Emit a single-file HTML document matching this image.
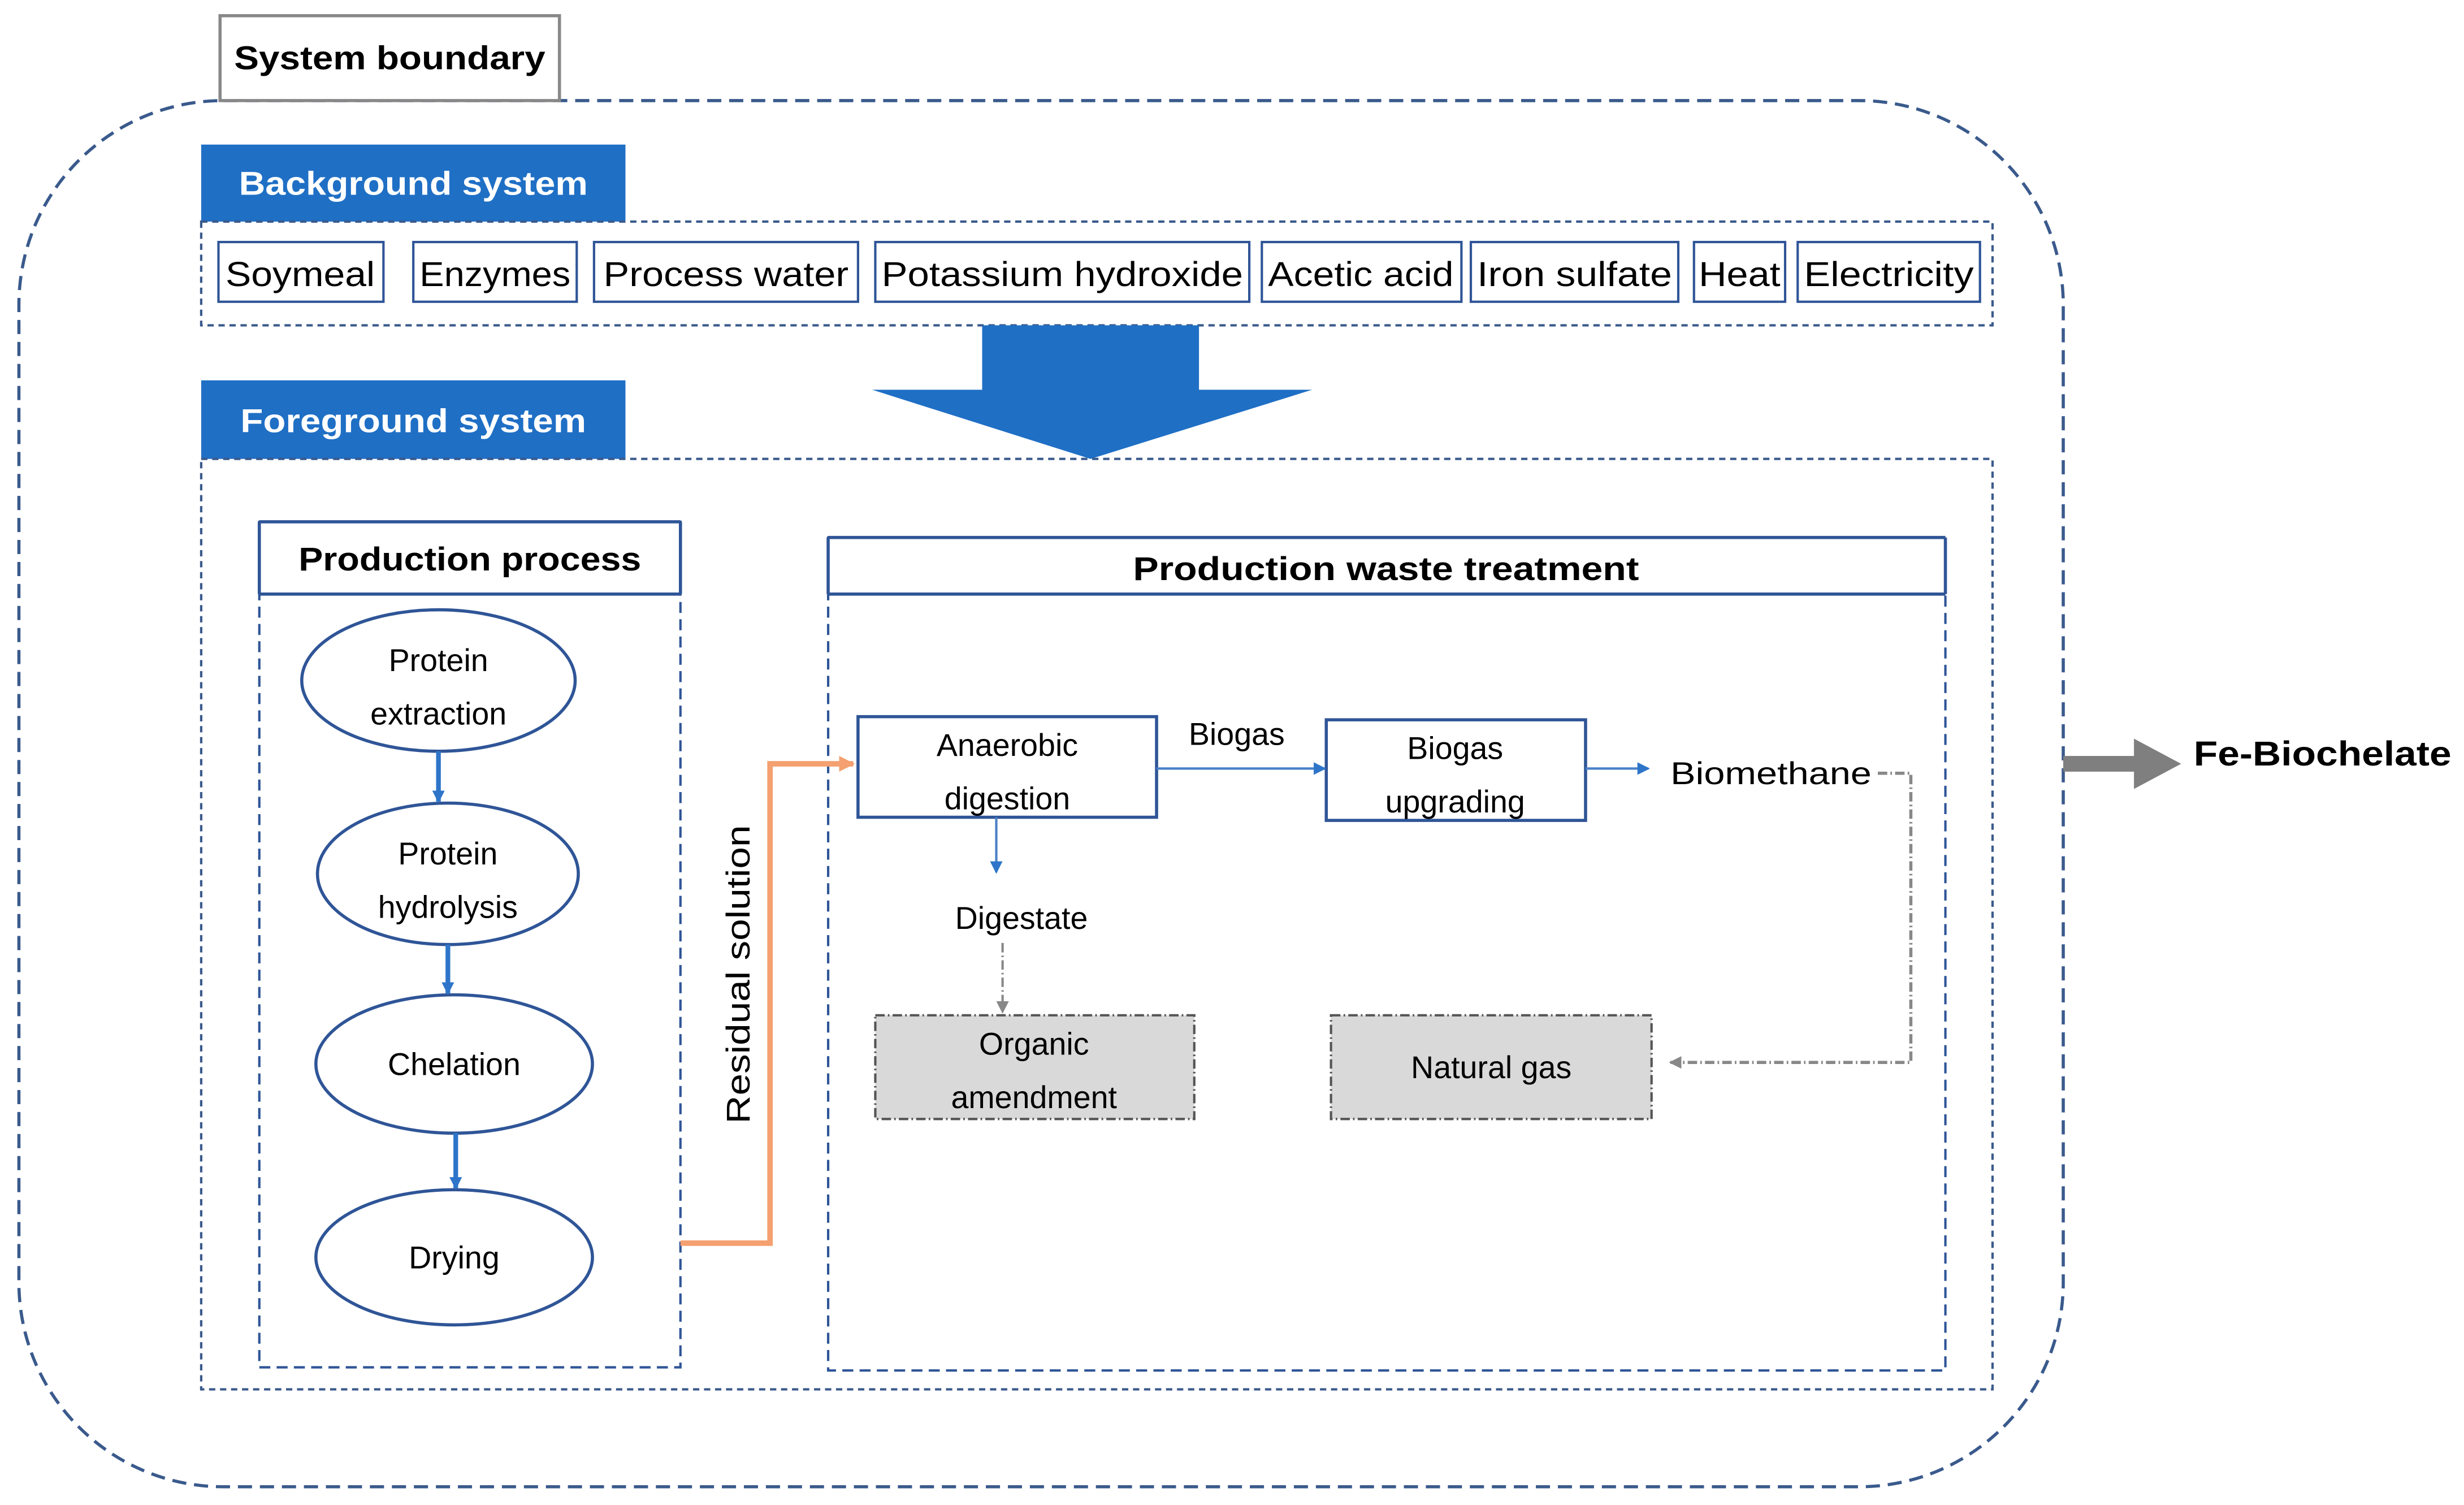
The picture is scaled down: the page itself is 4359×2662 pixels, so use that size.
<!DOCTYPE html>
<html><head><meta charset="utf-8"><style>html,body{margin:0;padding:0;background:#fff}svg{display:block}text{font-family:"Liberation Sans",sans-serif}</style></head><body>
<svg width="4359" height="2662" viewBox="0 0 1568 957.6" xmlns="http://www.w3.org/2000/svg">
<defs>
<marker id="ab" markerWidth="8" markerHeight="8" refX="7" refY="4" orient="auto" markerUnits="userSpaceOnUse"><path d="M0,0 L8,4 L0,8 z" fill="#2e75c9"/></marker>
<marker id="ao" markerWidth="10" markerHeight="10" refX="9" refY="5" orient="auto" markerUnits="userSpaceOnUse"><path d="M0,0 L10,5 L0,10 z" fill="#f4a070"/></marker>
<marker id="ag" markerWidth="8" markerHeight="8" refX="7" refY="4" orient="auto" markerUnits="userSpaceOnUse"><path d="M0,0 L8,4 L0,8 z" fill="#888"/></marker>
</defs>
<rect x="12" y="64" width="1301" height="882" rx="130" fill="none" stroke="#3a5a8c" stroke-width="2" stroke-dasharray="9,5"/>
<rect x="140" y="10" width="216" height="54" fill="#fff" stroke="#888" stroke-width="2"/>
<text x="248" y="44" font-size="21" font-weight="bold" text-anchor="middle" textLength="198" lengthAdjust="spacingAndGlyphs">System boundary</text>
<rect x="128" y="92" width="270" height="49" fill="#1f6fc5"/>
<text x="263" y="124" font-size="21" font-weight="bold" fill="#fff" text-anchor="middle" textLength="222" lengthAdjust="spacingAndGlyphs">Background system</text>
<rect x="128" y="141" width="1140" height="66" fill="none" stroke="#3a5a8c" stroke-width="1.5" stroke-dasharray="4,3"/>
<g fill="none" stroke="#2f5597" stroke-width="1.5">
<rect x="139" y="154" width="105" height="38"/><rect x="263" y="154" width="104" height="38"/><rect x="378" y="154" width="168" height="38"/><rect x="557" y="154" width="238" height="38"/><rect x="803" y="154" width="127" height="38"/><rect x="936" y="154" width="132" height="38"/><rect x="1078" y="154" width="58" height="38"/><rect x="1144" y="154" width="116" height="38"/>
</g>
<g font-size="22" text-anchor="middle">
<text x="191" y="182" textLength="95" lengthAdjust="spacingAndGlyphs">Soymeal</text>
<text x="315" y="182" textLength="96" lengthAdjust="spacingAndGlyphs">Enzymes</text>
<text x="462" y="182" textLength="156" lengthAdjust="spacingAndGlyphs">Process water</text>
<text x="676" y="182" textLength="230" lengthAdjust="spacingAndGlyphs">Potassium hydroxide</text>
<text x="866" y="182" textLength="118" lengthAdjust="spacingAndGlyphs">Acetic acid</text>
<text x="1002" y="182" textLength="124" lengthAdjust="spacingAndGlyphs">Iron sulfate</text>
<text x="1107" y="182" textLength="52" lengthAdjust="spacingAndGlyphs">Heat</text>
<text x="1202" y="182" textLength="108" lengthAdjust="spacingAndGlyphs">Electricity</text>
</g>
<path d="M625,207 H763 V248 H835 L694,292 L555,248 H625 Z" fill="#1f6fc5"/>
<rect x="128" y="242" width="270" height="50" fill="#1f6fc5"/>
<text x="263" y="275" font-size="21" font-weight="bold" fill="#fff" text-anchor="middle" textLength="220" lengthAdjust="spacingAndGlyphs">Foreground system</text>
<rect x="128" y="292" width="1140" height="592" fill="none" stroke="#3a5a8c" stroke-width="1.5" stroke-dasharray="4,3"/>
<rect x="165" y="332" width="268" height="538" fill="#fff" stroke="#2f5597" stroke-width="1.5" stroke-dasharray="7,4"/>
<path d="M165,332 H433 M165,332 V378 M433,332 V378 M165,378 H433" stroke="#2f5597" stroke-width="2"/>
<text x="299" y="363" font-size="21" font-weight="bold" text-anchor="middle" textLength="218" lengthAdjust="spacingAndGlyphs">Production process</text>
<g fill="#fff" stroke="#2f5597" stroke-width="2">
<ellipse cx="279" cy="433" rx="87" ry="45"/><ellipse cx="285" cy="556" rx="83" ry="45"/><ellipse cx="289" cy="677" rx="88" ry="44"/><ellipse cx="289" cy="800" rx="88" ry="43"/>
</g>
<g font-size="20" text-anchor="middle">
<text x="279" y="427">Protein</text><text x="279" y="461">extraction</text>
<text x="285" y="550">Protein</text><text x="285" y="584">hydrolysis</text>
<text x="289" y="684">Chelation</text><text x="289" y="807">Drying</text>
</g>
<g stroke="#2e75c9" stroke-width="3" marker-end="url(#ab)">
<line x1="279" y1="478" x2="279" y2="510"/><line x1="285" y1="601" x2="285" y2="632"/><line x1="290" y1="721" x2="290" y2="756"/>
</g>
<text transform="translate(477,620) rotate(-90)" font-size="21" text-anchor="middle" textLength="190" lengthAdjust="spacingAndGlyphs">Residual solution</text>
<rect x="527" y="342" width="711" height="530" fill="#fff" stroke="#2f5597" stroke-width="1.5" stroke-dasharray="7,4"/>
<path d="M527,342 H1238 M527,342 V378 M1238,342 V378 M527,378 H1238" stroke="#2f5597" stroke-width="2"/>
<text x="882" y="369" font-size="21" font-weight="bold" text-anchor="middle" textLength="322" lengthAdjust="spacingAndGlyphs">Production waste treatment</text>
<path d="M433,791 H490 V486 H543" fill="none" stroke="#f4a070" stroke-width="3.5" marker-end="url(#ao)"/>
<rect x="546" y="456" width="190" height="64" fill="#fff" stroke="#2f5597" stroke-width="2"/>
<rect x="844" y="458" width="165" height="64" fill="#fff" stroke="#2f5597" stroke-width="2"/>
<g font-size="20" text-anchor="middle">
<text x="641" y="481">Anaerobic</text><text x="641" y="515">digestion</text>
<text x="926" y="483">Biogas</text><text x="926" y="517">upgrading</text>
<text x="787" y="474">Biogas</text>
<text x="650" y="591">Digestate</text>
</g>
<text x="1063" y="499" font-size="20" textLength="128" lengthAdjust="spacingAndGlyphs">Biomethane</text>
<g stroke="#4a80c8" stroke-width="1.5" marker-end="url(#ab)">
<line x1="736" y1="489" x2="843" y2="489"/><line x1="1009" y1="489" x2="1049" y2="489"/><line x1="634" y1="520" x2="634" y2="555"/>
</g>
<g fill="none" stroke="#888" stroke-width="1.5" stroke-dasharray="6,2,1,2">
<line x1="638" y1="600" x2="638" y2="644" marker-end="url(#ag)"/>
<path d="M1195,492 H1216 V676 H1063" marker-end="url(#ag)" stroke-width="2"/>
</g>
<g fill="#d9d9d9" stroke="#555" stroke-width="1.5" stroke-dasharray="6,2,1,2">
<rect x="557" y="646" width="203" height="66"/><rect x="847" y="646" width="204" height="66"/>
</g>
<g font-size="20" text-anchor="middle">
<text x="658" y="671">Organic</text><text x="658" y="705">amendment</text>
<text x="949" y="686">Natural gas</text>
</g>
<path d="M1313,481 H1358 V470 L1388,486 L1358,502 V491 H1313 Z" fill="#7f7f7f"/>
<text x="1396" y="487" font-size="22" font-weight="bold" textLength="164" lengthAdjust="spacingAndGlyphs">Fe-Biochelate</text>
</svg>
</body></html>
